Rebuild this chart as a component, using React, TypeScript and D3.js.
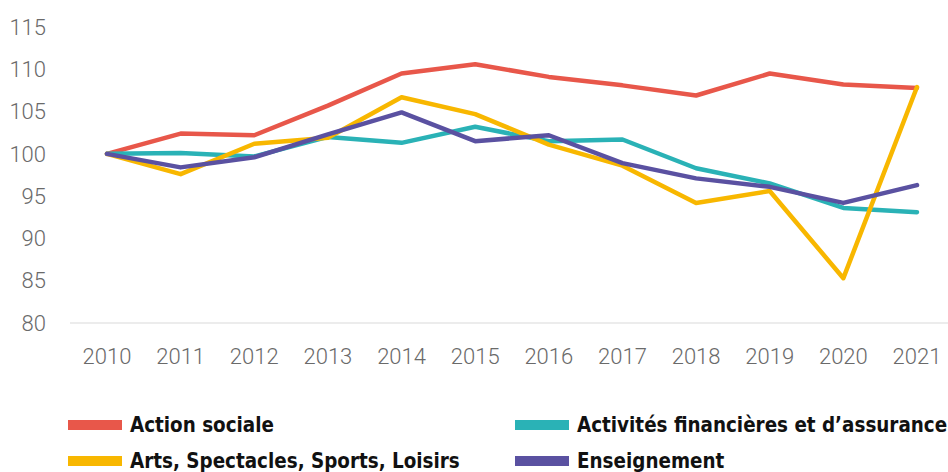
import React from "react";
import * as d3 from "d3";

const years = ["2010","2011","2012","2013","2014","2015","2016","2017","2018","2019","2020","2021"];
const yTicks = [80, 85, 90, 95, 100, 105, 110, 115];

const actionSociale = [100, 102.4, 102.2, 105.7, 109.5, 110.6, 109.1, 108.1, 106.9, 109.5, 108.2, 107.8];
const activitesFinancieres = [100, 100.1, 99.7, 102.0, 101.3, 103.2, 101.5, 101.7, 98.3, 96.5, 93.6, 93.1];
const arts = [100, 97.6, 101.2, 101.9, 106.7, 104.7, 101.1, 98.6, 94.2, 95.6, 85.3, 107.9];
const enseignement = [100, 98.4, 99.6, 102.3, 104.9, 101.5, 102.2, 98.9, 97.1, 96.1, 94.2, 96.3];

const seriesNames = ["Action sociale", "Activités financières et d’assurance", "Arts, Spectacles, Sports, Loisirs", "Enseignement"];
const seriesColors = ["#E8574A", "#2AB2B6", "#F8B700", "#5A51A1"];
const seriesValues = [actionSociale, activitesFinancieres, arts, enseignement];

export default function App() {
  const W = 948, H = 472;
  const x = d3.scalePoint<string>().domain(years).range([107, 917]);
  const y = d3.scaleLinear().domain([80, 115]).range([323, 27]);
  const line = d3.line<number>()
    .x((_, i) => x(years[i]) as number)
    .y((d) => y(d));

  const order = [0, 1, 2, 3];

  const legendItems = [
    { i: 0, sx: 68, tx: 130, cy: 425 },
    { i: 1, sx: 515, tx: 577, cy: 425 },
    { i: 2, sx: 68, tx: 130, cy: 461 },
    { i: 3, sx: 515, tx: 577, cy: 461 },
  ];

  return (
    <svg width={W} height={H} style={{ position: "absolute", left: 0, top: 0, background: "#fff" }}>
      <line x1={70} x2={948} y1={y(80)} y2={y(80)} stroke="#d9d9d9" strokeWidth={1} />
      {yTicks.map((t) => (
        <text key={t} x={46} y={y(t)} dy="0.35em" textAnchor="end"
          fontFamily="Roboto" fontWeight={300} fontSize={22} fill="#6a6a6a">{t}</text>
      ))}
      {years.map((yr) => (
        <text key={yr} x={x(yr)} y={356} dy="0.35em" textAnchor="middle"
          fontFamily="Roboto" fontWeight={300} fontSize={22} fill="#6a6a6a">{yr}</text>
      ))}
      {order.map((i) => (
        <path key={i} d={line(seriesValues[i]) || ""} fill="none" stroke={seriesColors[i]}
          strokeWidth={4.5} strokeLinejoin="round" strokeLinecap="round" />
      ))}
      {legendItems.map((it) => (
        <g key={it.i}>
          <rect x={it.sx} y={it.cy - 5} width={54} height={10} fill={seriesColors[it.i]} />
          <text x={it.tx} y={it.cy} dy="0.35em" fontFamily="'DejaVu Sans Condensed', 'DejaVu Sans'"
            fontWeight={700} fontSize={20.4} fill="#111">{seriesNames[it.i]}</text>
        </g>
      ))}
    </svg>
  );
}
